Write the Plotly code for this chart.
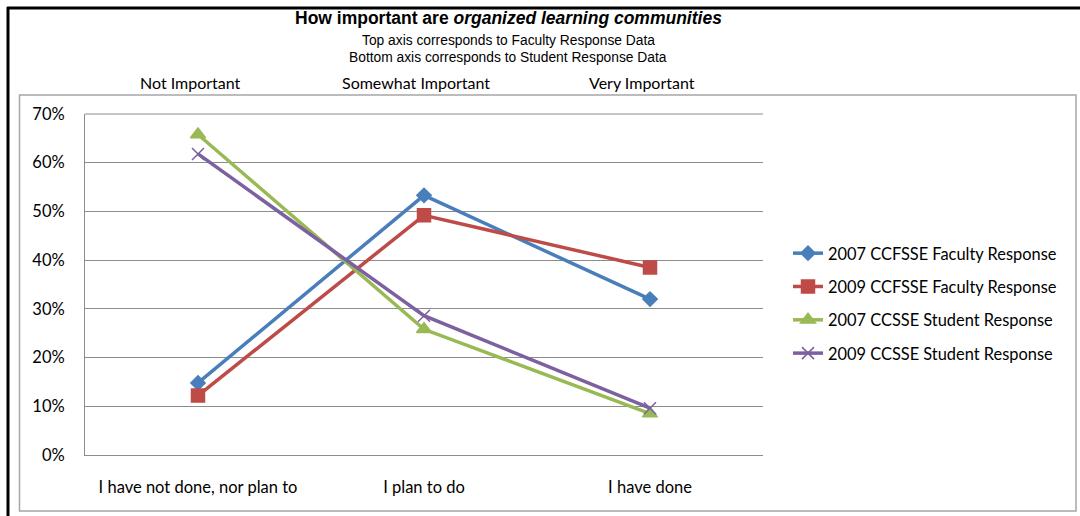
import plotly.graph_objects as go

categories = ["I have not done, nor plan to", "I plan to do", "I have done"]
top_labels = ["Not Important", "Somewhat Important", "Very Important"]
series_names = ["2007 CCFSSE Faculty Response", "2009 CCFSSE Faculty Response",
                "2007 CCSSE Student Response", "2009 CCSSE Student Response"]
fac_2007 = [0.148, 0.533, 0.320]
fac_2009 = [0.122, 0.492, 0.385]
stu_2007 = [0.658, 0.258, 0.085]
stu_2009 = [0.618, 0.286, 0.096]
colors = ["#4A7EBB", "#BE4B48", "#98B954", "#7D60A0"]
symbols = ["diamond", "square", "triangle-up", "x-thin"]
msizes = [11, 13, 13, 12]

W, H = 1080, 516
L, R, T, B = 85, 763, 114, 455

def px(x):
    return (x - L) / (R - L)

def py(y):
    return (B - y) / (B - T)

FONT = "Lato"
GRID = "#8C8C8C"
fig = go.Figure()
for name, vals, c, s, ms in zip(series_names, [fac_2007, fac_2009, stu_2007, stu_2009], colors, symbols, msizes):
    fig.add_trace(go.Scatter(
        x=categories, y=vals, name=name, mode="lines+markers",
        line=dict(color=c, width=3.5),
        marker=dict(symbol=s, size=ms, color=c, line=dict(color=c, width=1.5)),
        legendgroup=name,
    ))

fig.update_layout(
    width=W, height=H,
    margin=dict(l=L, r=W - R, t=T, b=H - B),
    paper_bgcolor="white", plot_bgcolor="white",
    font=dict(family=FONT, size=16, color="#000000"),
    showlegend=True,
    legend=dict(x=px(788), y=py(236), xanchor="left", yanchor="top",
                font=dict(family=FONT, size=16.4), tracegroupgap=9,
                bgcolor="rgba(0,0,0,0)"),
    xaxis=dict(range=[-0.5, 2.5], showgrid=False, showline=True, mirror=False,
               linecolor=GRID, linewidth=1, zeroline=False,
               ticks="", ticklabelstandoff=17, tickfont=dict(family=FONT, size=16.5)),
    yaxis=dict(range=[0, 0.7], dtick=0.1, tickformat=".0%", showgrid=True,
               gridcolor=GRID, gridwidth=1, showline=True, linecolor=GRID,
               linewidth=1, zeroline=False, ticks="", ticklabelstandoff=16,
               tickfont=dict(family=FONT, size=16.5)),
)

annotations = [
    dict(x=px(508), y=py(18), xref="paper", yref="paper", showarrow=False, yanchor="middle",
         text="<b>How important are <i>organized learning communities</i></b>",
         font=dict(family="Liberation Sans", size=17.5)),
    dict(x=px(508), y=py(41), xref="paper", yref="paper", showarrow=False, yanchor="middle",
         text="Top axis corresponds to Faculty Response Data",
         font=dict(family="Liberation Sans", size=13.8)),
    dict(x=px(508), y=py(58), xref="paper", yref="paper", showarrow=False, yanchor="middle",
         text="Bottom axis corresponds to Student Response Data",
         font=dict(family="Liberation Sans", size=13.8)),
]
for i, lab in enumerate(top_labels):
    annotations.append(dict(x=i - 0.035, y=py(82), xref="x", yref="paper", showarrow=False,
                            yanchor="middle", text=lab, font=dict(family=FONT, size=16)))
fig.update_layout(annotations=annotations)

shapes = [
    dict(type="rect", xref="paper", yref="paper", x0=px(19.5), x1=px(1076), y0=py(95), y1=py(511),
         line=dict(color="#A6A6A6", width=1.5), layer="below"),
    dict(type="line", xref="paper", yref="paper", x0=0, x1=1, y0=1, y1=1,
         line=dict(color=GRID, width=1), layer="below"),
    dict(type="line", xref="paper", yref="paper", x0=px(8), x1=px(8), y0=py(7), y1=py(520),
         line=dict(color="black", width=3)),
    dict(type="line", xref="paper", yref="paper", x0=px(7), x1=px(1082), y0=py(8), y1=py(8),
         line=dict(color="black", width=3)),
]
fig.update_layout(shapes=shapes)

fig.write_html("out.html", config={"displayModeBar": False},
               post_script="document.body.style.margin='0';document.body.style.overflow='hidden';")
